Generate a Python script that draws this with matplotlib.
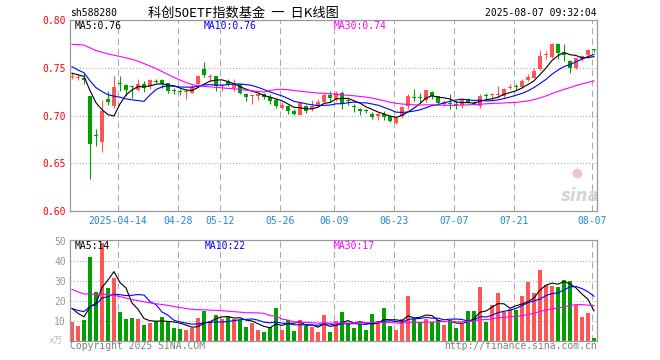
import numpy as np
import pandas as pd
import matplotlib
matplotlib.use("Agg")
import matplotlib.pyplot as plt

plt.rcParams['font.family'] = ['DejaVu Sans Mono', 'Noto Sans CJK SC']

RED = "#ff5555"
GREEN = "#00a000"
GRID = "#aaaaaa"
BORDER = "#999999"

# trading days 2025-04-01 .. 2025-08-07 (88 sessions)
date_labels = ["2025-04-14", "04-28", "05-12", "05-26", "06-09", "06-23", "07-07", "07-21", "08-07"]
date_index = [8, 18, 25, 35, 44, 54, 64, 74, 87]

# closes / volumes of the 29 sessions before the window (only feed the moving averages)
prior_close = [0.748, 0.752, 0.758, 0.762, 0.760, 0.766, 0.770, 0.772, 0.770, 0.777,
               0.790, 0.805, 0.812, 0.818, 0.822, 0.820, 0.815, 0.810, 0.800, 0.797,
               0.775, 0.765, 0.755, 0.750, 0.745, 0.748, 0.745, 0.744, 0.743]
prior_volume = [45, 42, 40, 38, 36, 40, 38, 35, 34, 32, 28, 26, 25, 24, 22, 24, 23, 21, 20, 19,
                17, 16, 16, 16, 15.5, 20, 19, 17, 15.8]

open_ = [0.740, 0.7395, 0.7395, 0.7203, 0.680, 0.672, 0.7175, 0.710, 0.733, 0.7315,
         0.7305, 0.7266, 0.7325, 0.7308, 0.7356, 0.737, 0.7336, 0.7258, 0.7251, 0.7248,
         0.7240, 0.7325, 0.749, 0.7400, 0.7411, 0.7310, 0.736, 0.729, 0.7325, 0.7223,
         0.7200, 0.7206, 0.7223, 0.7189, 0.7165, 0.7076, 0.7103, 0.7052, 0.7008, 0.7096,
         0.7069, 0.7103, 0.7144, 0.7213, 0.7172, 0.7233, 0.7158, 0.7089, 0.7055, 0.7045,
         0.7018, 0.6994, 0.7018, 0.6994, 0.6926, 0.6994, 0.7096, 0.7182, 0.7182, 0.7162,
         0.725, 0.7199, 0.7120, 0.7123, 0.7113, 0.7110, 0.7168, 0.7125, 0.710, 0.7206,
         0.7210, 0.7218, 0.7203, 0.7287, 0.7302, 0.7298, 0.7367, 0.7395, 0.7483, 0.7636,
         0.7612, 0.7751, 0.7650, 0.757, 0.750, 0.7587, 0.7633, 0.7684]
high = [0.7455, 0.743, 0.7448, 0.7203, 0.686, 0.716, 0.7256, 0.741, 0.741, 0.7325,
        0.731, 0.7385, 0.736, 0.7378, 0.738, 0.7385, 0.7343, 0.729, 0.7273, 0.7273,
        0.7315, 0.7420, 0.756, 0.7438, 0.7411, 0.7335, 0.7377, 0.7377, 0.7335, 0.724,
        0.7223, 0.724, 0.724, 0.7223, 0.7179, 0.7138, 0.7110, 0.7069, 0.7144, 0.7110,
        0.7158, 0.7172, 0.7240, 0.7253, 0.7255, 0.7255, 0.7179, 0.712, 0.7076, 0.7069,
        0.7035, 0.7035, 0.7052, 0.7008, 0.6984, 0.7103, 0.7223, 0.7274, 0.7233, 0.7267,
        0.7257, 0.7206, 0.7165, 0.7220, 0.7155, 0.7180, 0.7185, 0.7150, 0.7220, 0.724,
        0.724, 0.731, 0.7290, 0.7325, 0.7325, 0.7385, 0.743, 0.750, 0.7681, 0.7674,
        0.7762, 0.7762, 0.7751, 0.7577, 0.7605, 0.7633, 0.7692, 0.7692]
low = [0.738, 0.737, 0.7325, 0.633, 0.668, 0.6617, 0.7106, 0.708, 0.726, 0.720,
       0.7186, 0.7256, 0.7245, 0.7273, 0.7336, 0.729, 0.7234, 0.7220, 0.7213, 0.7168,
       0.7234, 0.7315, 0.7406, 0.7360, 0.7257, 0.7257, 0.7308, 0.7257, 0.7223, 0.7155,
       0.7120, 0.7165, 0.7172, 0.7120, 0.7076, 0.7069, 0.7018, 0.7001, 0.7001, 0.7028,
       0.7042, 0.7086, 0.7137, 0.7137, 0.7155, 0.707, 0.7110, 0.7035, 0.7001, 0.7021,
       0.6967, 0.6950, 0.6950, 0.6933, 0.6906, 0.6974, 0.7069, 0.7155, 0.7138, 0.7145,
       0.7172, 0.7110, 0.7103, 0.707, 0.7069, 0.7080, 0.7130, 0.7110, 0.7080, 0.7168,
       0.7168, 0.7185, 0.7185, 0.7273, 0.7270, 0.7285, 0.7360, 0.739, 0.7472, 0.7587,
       0.7605, 0.7587, 0.7570, 0.7448, 0.7483, 0.7570, 0.7605, 0.7670]
close = [0.741, 0.740, 0.737, 0.6697, 0.679, 0.7046, 0.7144, 0.7298, 0.7326, 0.7266,
         0.730, 0.7325, 0.7287, 0.7371, 0.7353, 0.7325, 0.7255, 0.7255, 0.7248, 0.7250,
         0.730, 0.7413, 0.7428, 0.7404, 0.7308, 0.7315, 0.7315, 0.7325, 0.724, 0.7189,
         0.7206, 0.7223, 0.7189, 0.7155, 0.7096, 0.711, 0.7052, 0.7018, 0.7131, 0.7042,
         0.7103, 0.7144, 0.7213, 0.7179, 0.7233, 0.712, 0.7155, 0.7086, 0.7052, 0.7042,
         0.6984, 0.7018, 0.6984, 0.694, 0.6973, 0.7086, 0.7206, 0.7179, 0.718, 0.7264,
         0.7206, 0.713, 0.7144, 0.712, 0.711, 0.7170, 0.7133, 0.712, 0.7203, 0.7203,
         0.7213, 0.722, 0.7273, 0.729, 0.7298, 0.736, 0.7402, 0.7465, 0.7622, 0.764,
         0.7751, 0.7657, 0.7636, 0.750, 0.7598, 0.7622, 0.7681, 0.7681]
volume = [9.7, 7.5, 10.5, 42, 24.7, 49, 26.5, 31.3, 14.5, 11.2,
          11.5, 11, 8, 9, 10, 12, 10, 6.5, 6, 5.5,
          6.5, 11.5, 15, 9.7, 13, 11, 12.5, 11.2, 10.5, 7,
          9, 5.5, 4.5, 7, 16.5, 5.5, 10.5, 5, 10.5, 7.5,
          7, 4.5, 13, 4.5, 10, 14.5, 9, 6.5, 8.5, 5.5,
          13.5, 10, 16.5, 7.5, 5.5, 11, 22.5, 11, 9.5, 11,
          9.5, 10.5, 8, 10.5, 6.5, 8.5, 15, 15, 27, 9.5,
          18, 24, 14.5, 16, 15.5, 22.5, 29.7, 24, 35.5, 28,
          27.5, 27, 30.5, 30, 17.8, 12, 14, 1.5]


def moving_averages(prior, values, windows):
    series = pd.Series(prior + values)
    return [series.rolling(w).mean().iloc[len(prior):].values for w in windows]


W, H = 660, 360
fig = plt.figure(figsize=(W / 100, H / 100), dpi=100)


def px_axes(left, top, right, bottom):
    return fig.add_axes([left / W, 1 - bottom / H, (right - left) / W, (bottom - top) / H])


def ftext(x, y, s, **kw):
    fig.text(x / W, 1 - y / H, s, **kw)


def style_axes(axis):
    for sp in axis.spines.values():
        sp.set_color(BORDER)
        sp.set_linewidth(0.9)
    axis.set_xlim(-0.333, 87.5)
    axis.set_xticks([])
    axis.tick_params(axis="y", length=0, labelsize=7, pad=3)
    for d in date_index:
        axis.axvline(d - 0.33, color=GRID, lw=0.75, ls=(0, (6, 4)), zorder=0)


idx = np.arange(len(close))
o = np.array(open_)
c = np.array(close)
colors = np.where(c >= o, RED, GREEN)

# price panel
ax = px_axes(70, 20, 597, 211)
style_axes(ax)
ax.set_ylim(0.60, 0.80)
ax.set_yticks([0.60, 0.65, 0.70, 0.75, 0.80])
ax.set_yticklabels(["0.60", "0.65", "0.70", "0.75", "0.80"], color="red")
for lvl in [0.65, 0.70, 0.75]:
    ax.axhline(lvl, color=GRID, lw=0.75, ls=(0, (1, 2)), zorder=0)

ax.vlines(idx, low, high, colors=colors, lw=0.8, zorder=2)
body_h = np.maximum(np.abs(c - o), 0.0011)
ax.bar(idx, body_h, 0.75, bottom=np.minimum(o, c), color=colors, lw=0, zorder=3)

ma5, ma10, ma30 = moving_averages(prior_close, close, [5, 10, 30])
ax.plot(idx, ma5, color="black", lw=0.8, zorder=4)
ax.plot(idx, ma10, color="blue", lw=0.8, zorder=4)
ax.plot(idx, ma30, color="magenta", lw=0.8, zorder=4)

for d, lab in zip(date_index, date_labels):
    ax.text(d - 0.33, -0.052, lab, transform=ax.get_xaxis_transform(), ha="center", va="center",
            fontsize=7, color="#2088d0")

# sina watermark
ax.text(0.968, 0.08, "sina", transform=ax.transAxes, ha="center", va="center", fontsize=12,
        fontstyle="italic", fontweight="bold", family="DejaVu Sans", color="#d4d4d4", zorder=1)
ax.plot([0.962], [0.2], transform=ax.transAxes, marker="o", ms=6, color="#f2c4c4", zorder=1)

# volume panel
vax = px_axes(70, 240, 597, 341)
style_axes(vax)
vax.set_ylim(0, 50.5)
vax.set_yticks([10, 20, 30, 40, 50])
vax.set_yticklabels(["10", "20", "30", "40", "50"], color=BORDER)
for lvl in [10, 20, 30, 40]:
    vax.axhline(lvl, color=GRID, lw=0.75, ls=(0, (1, 2)), zorder=0)
vax.bar(idx, volume, 0.8, color=colors, lw=0, zorder=2)
vma5, vma10, vma30 = moving_averages(prior_volume, volume, [5, 10, 30])
vax.plot(idx, vma5, color="black", lw=0.8, zorder=4)
vax.plot(idx, vma10, color="blue", lw=0.8, zorder=4)
vax.plot(idx, vma30, color="magenta", lw=0.8, zorder=4)

# header and legends
ftext(70, 13, "sh588280", fontsize=7, va="center")
ftext(243, 13, "科创50ETF指数基金  一  日K线图", fontsize=9.5, ha="center", va="center",
      family=["Noto Sans CJK SC", "DejaVu Sans"])
ftext(597, 13, "2025-08-07 09:32:04", fontsize=7, ha="right", va="center")

ftext(75, 26, "MA5:0.76", fontsize=7, va="center", color="black")
ftext(204, 26, "MA10:0.76", fontsize=7, va="center", color="blue")
ftext(334, 26, "MA30:0.74", fontsize=7, va="center", color="magenta")

ftext(75, 246, "MA5:14", fontsize=7, va="center", color="black")
ftext(205, 246, "MA10:22", fontsize=7, va="center", color="blue")
ftext(334, 246, "MA30:17", fontsize=7, va="center", color="magenta")

ftext(56, 341, "x万", fontsize=6.5, ha="center", va="center", color="#bbbbbb")
ftext(70, 346, "Copyright 2025 SINA.COM", fontsize=7, va="center", color="#808080")
ftext(597, 346, "http://finance.sina.com.cn", fontsize=7, ha="right", va="center", color="#808080")

fig.savefig("out.png", dpi=100)
